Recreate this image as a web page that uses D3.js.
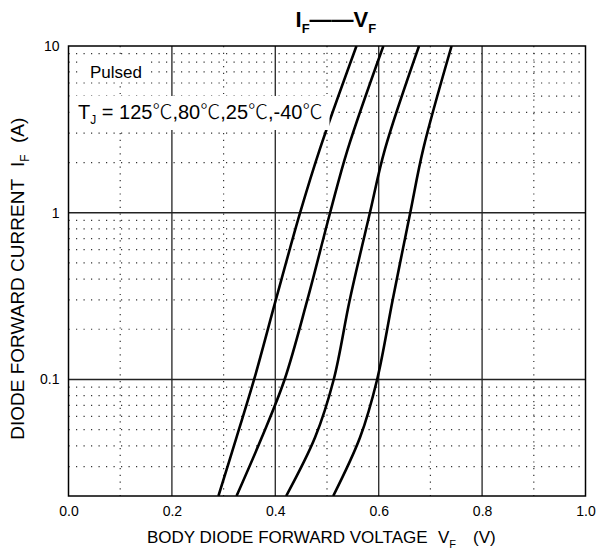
<!DOCTYPE html>
<html>
<head>
<meta charset="utf-8">
<script src="https://cdn.jsdelivr.net/npm/d3@7"></script>
<style>
  body { margin: 0; background: #fff; }
  svg { display: block; font-family: "Liberation Sans", Arial, sans-serif; }
</style>
</head>
<body>
<div id="chart"></div>
<script>
// forward current points (A), shared by every curve
const currentA = [0.02, 0.045, 0.1, 0.3, 1, 2.4, 10];
// forward voltage (V) at those currents, one array per junction temp
const vf125 = [0.290, 0.325, 0.359, 0.401, 0.448, 0.486, 0.557];
const vf80 = [0.325, 0.374, 0.418, 0.462, 0.506, 0.540, 0.609];
const vf25 = [0.421, 0.477, 0.513, 0.544, 0.583, 0.612, 0.678];
const vfMinus40 = [0.512, 0.564, 0.597, 0.627, 0.661, 0.686, 0.741];

// axis ticks
const xTicks = [0.0, 0.2, 0.4, 0.6, 0.8, 1.0];
const xMinor = [0.1, 0.3, 0.5, 0.7, 0.9];
const yTicks = [0.1, 1, 10];
const yMinor = [0.03, 0.04, 0.05, 0.06, 0.07, 0.08, 0.09,
                0.2, 0.3, 0.4, 0.5, 0.6, 0.7, 0.8, 0.9,
                2, 3, 4, 5, 6, 7, 8, 9];

const wid = 598, hei = 550;
// plot box edges
const padL = 68.5, padR = 585.5, padT = 46, padB = 496;

const svg = d3.select("#chart").append("svg")
    .attr("width", wid).attr("height", hei);

const x = d3.scaleLinear().domain([0, 1]).range([padL, padR]);
const y = d3.scaleLog().domain([0.02, 10]).range([padB, padT]);

// ** dotted minor grid **
const grid = svg.append("g");
grid.selectAll(".vminor").data(xMinor).enter().append("line")
    .attr("x1", d => x(d)).attr("x2", d => x(d))
    .attr("y1", padT).attr("y2", padB)
    .attr("stroke", "#333").attr("stroke-width", 1.2)
    .attr("stroke-dasharray", "1.2,5.5");
grid.selectAll(".hminor").data(yMinor).enter().append("line")
    .attr("x1", padL).attr("x2", padR)
    .attr("y1", d => y(d)).attr("y2", d => y(d))
    .attr("stroke", "#333").attr("stroke-width", 1.2)
    .attr("stroke-dasharray", "1.2,6.3");

// ** solid major grid **
grid.selectAll(".vmajor").data(xTicks.slice(1, -1)).enter().append("line")
    .attr("x1", d => x(d)).attr("x2", d => x(d))
    .attr("y1", padT).attr("y2", padB)
    .attr("stroke", "#333").attr("stroke-width", 1.4);
grid.selectAll(".hmajor").data(yTicks.slice(0, -1)).enter().append("line")
    .attr("x1", padL).attr("x2", padR)
    .attr("y1", d => y(d)).attr("y2", d => y(d))
    .attr("stroke", "#222").attr("stroke-width", 1.4);

// ** curves **
svg.append("clipPath").attr("id", "plotClip").append("rect")
    .attr("x", padL).attr("y", padT).attr("width", padR - padL).attr("height", padB - padT);

const series = [vf125, vf80, vf25, vfMinus40];
const line = d3.line()
    .x(d => x(d[0]))
    .y(d => y(d[1]))
    .curve(d3.curveCatmullRom.alpha(0.5));

svg.append("g").attr("clip-path", "url(#plotClip)")
    .selectAll("path").data(series).enter().append("path")
    .attr("d", vs => line(vs.map((v, i) => [v, currentA[i]])))
    .attr("fill", "none")
    .attr("stroke", "#000")
    .attr("stroke-width", 2.6);

// ** in-plot notes, white behind them **
svg.append("rect").attr("x", 80).attr("y", 57).attr("width", 70).attr("height", 24).attr("fill", "#fff");
svg.append("rect").attr("x", padL + 1).attr("y", 96).attr("width", 260).attr("height", 34).attr("fill", "#fff");

svg.append("text").attr("x", 90).attr("y", 78)
    .style("font-size", "17px").text("Pulsed");

const tj = svg.append("text").attr("x", 78).attr("y", 119).style("font-size", "20px");
tj.append("tspan").text("T");
tj.append("tspan").attr("dy", 5).style("font-size", "12px").text("J");
tj.append("tspan").attr("dy", -5).text(" = 125");
const tempParts = ["", ",80", ",25", ",-40"];
tempParts.forEach((p, i) => {
    if (i > 0) tj.append("tspan").text(p);
    tj.append("tspan").style("font-family", "'Noto Sans CJK SC'").style("font-weight", 300).text("℃");
});

// ** border **
svg.append("rect")
    .attr("x", padL).attr("y", padT).attr("width", padR - padL).attr("height", padB - padT)
    .attr("fill", "none").attr("stroke", "#000").attr("stroke-width", 1.5);

// ** axes (labels only) **
const xAxis = d3.axisBottom(x).tickValues(xTicks).tickSize(0).tickPadding(10)
    .tickFormat(d3.format(".1f"));
const gx = svg.append("g").attr("transform", `translate(0,${padB})`).call(xAxis);
gx.select(".domain").remove();
gx.selectAll("text").style("font-size", "14px").attr("fill", "#000")
    .style("font-family", "'Liberation Sans', Arial, sans-serif");

const yAxis = d3.axisLeft(y).tickValues(yTicks).tickSize(0).tickPadding(9)
    .tickFormat(d => d3.format("~g")(d));
const gy = svg.append("g").attr("transform", `translate(${padL},0)`).call(yAxis);
gy.select(".domain").remove();
gy.selectAll("text").style("font-size", "14px").attr("fill", "#000")
    .style("font-family", "'Liberation Sans', Arial, sans-serif");

// ** title **
const title = svg.append("text").attr("x", 295.5).attr("y", 27)
    .style("font-size", "22px").style("font-weight", "bold");
title.append("tspan").text("I");
title.append("tspan").attr("dy", 6).style("font-size", "13px").text("F");
title.append("tspan").attr("dy", -6).text("——");
title.append("tspan").text("V");
title.append("tspan").attr("dy", 6).style("font-size", "13px").text("F");

// ** x axis title **
const xt = svg.append("text").attr("y", 543).style("font-size", "17px");
xt.append("tspan").attr("x", 147).text("BODY DIODE FORWARD VOLTAGE");
xt.append("tspan").attr("x", 438).text("V");
xt.append("tspan").attr("dy", 5).style("font-size", "11px").text("F");
xt.append("tspan").attr("x", 473).attr("dy", -5).text("(V)");

// ** y axis title **
const yt = svg.append("text").attr("transform", "translate(24,0) rotate(-90)")
    .style("font-size", "19px");
yt.append("tspan").attr("x", -179).attr("text-anchor", "end").text("DIODE FORWARD CURRENT");
yt.append("tspan").attr("x", -167).text("I");
yt.append("tspan").attr("dy", 5).style("font-size", "12px").text("F");
yt.append("tspan").attr("x", -143).attr("dy", -5).text("(A)");
</script>
</body>
</html>
